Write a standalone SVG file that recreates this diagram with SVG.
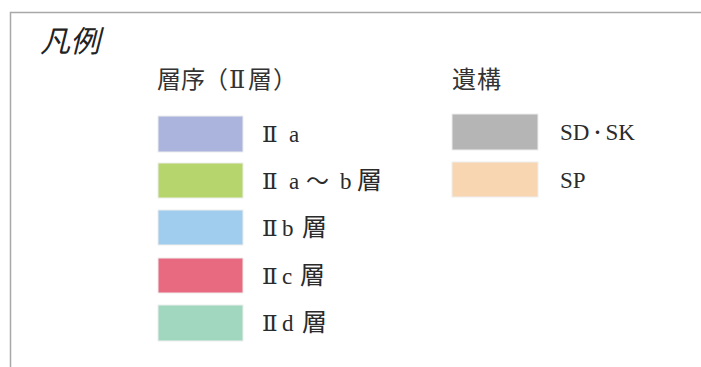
<svg xmlns="http://www.w3.org/2000/svg" width="701" height="367" viewBox="0 0 701 367">
<style>
.t{font-family:"Liberation Serif","DejaVu Serif","Noto Sans CJK JP",serif;fill:#2b2b2b;font-size:23px}
.h{font-family:"Liberation Serif","DejaVu Serif","Noto Sans CJK JP",serif;fill:#333;font-size:24px}
.k{font-size:25px}
.sw{stroke:#eeeeee;stroke-width:1}
</style>
<rect width="701" height="367" fill="#fff"/>
<g id="frame"><path d="M10.5 367 V12.5 H701" fill="none" stroke="#a8a8a8" stroke-width="1.5"/></g>
<g id="title"><text x="40" y="52" font-size="30" font-style="italic" fill="#222" style="font-family:'Noto Sans CJK JP',sans-serif">凡例</text></g>
<g id="head-layer"><text y="88" class="h"><tspan x="157">層</tspan><tspan x="181">序</tspan><tspan x="204">（</tspan><tspan x="229">Ⅱ</tspan><tspan x="248">層</tspan><tspan x="273">）</tspan></text></g>
<g id="head-feature"><text x="452" y="88" class="h" letter-spacing="1">遺構</text></g>
<g id="n-IIa"><rect class="sw" x="158" y="116" width="85" height="36" fill="#abb4dd"/><text y="142" class="t"><tspan x="262">Ⅱ</tspan><tspan x="289">a</tspan></text></g>
<g id="n-IIab"><rect class="sw" x="158" y="163" width="85" height="35" fill="#b6d56d"/><text y="189" class="t"><tspan x="262">Ⅱ</tspan><tspan x="289">a</tspan><tspan x="306">～</tspan><tspan x="340">b</tspan><tspan x="357" class="k">層</tspan></text></g>
<g id="n-IIb"><rect class="sw" x="158" y="210" width="85" height="35" fill="#a0cced"/><text y="236" class="t"><tspan x="262">Ⅱ</tspan><tspan x="282">b</tspan><tspan x="302" class="k">層</tspan></text></g>
<g id="n-IIc"><rect class="sw" x="158" y="258" width="85" height="35" fill="#e76a80"/><text y="284" class="t"><tspan x="262">Ⅱ</tspan><tspan x="282">c</tspan><tspan x="300" class="k">層</tspan></text></g>
<g id="n-IId"><rect class="sw" x="158" y="305" width="85" height="36" fill="#a1d7bf"/><text y="331" class="t"><tspan x="262">Ⅱ</tspan><tspan x="282">d</tspan><tspan x="302" class="k">層</tspan></text></g>
<g id="n-SDSK"><rect class="sw" x="452" y="114" width="86" height="36" fill="#b5b5b5"/><text x="560" y="140" class="t">SD<tspan font-size="16" dy="-2">・</tspan><tspan dy="2">SK</tspan></text></g>
<g id="n-SP"><rect class="sw" x="452" y="162" width="86" height="35" fill="#f8d6b1"/><text x="560" y="188" class="t">SP</text></g>
<g id="connectors"></g>
</svg>
